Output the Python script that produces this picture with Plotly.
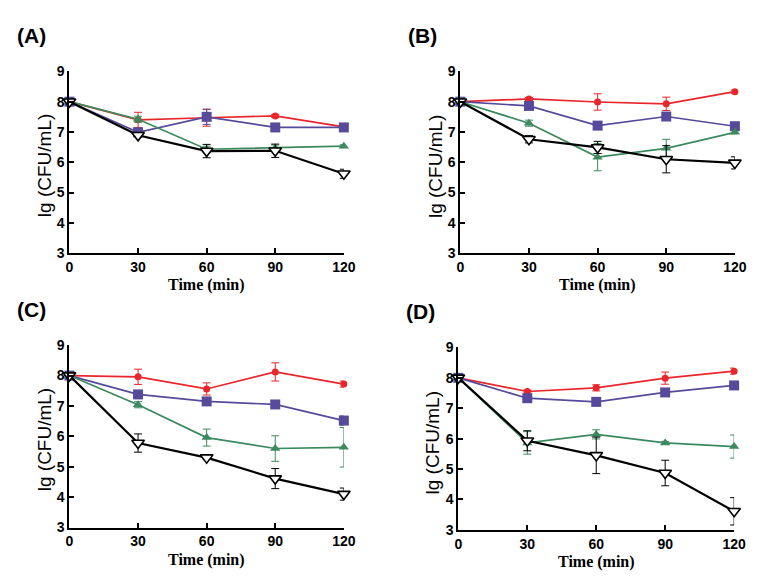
import plotly.graph_objects as go

time_min = [0, 30, 60, 90, 120]
panel_labels = ["(A)", "(B)", "(C)", "(D)"]
series_names = ["Control", "Treatment 1", "Treatment 2", "Treatment 3"]

# Panel A
a_red = [8.0, 7.40, 7.47, 7.53, 7.17]
a_red_err = [0.0, 0.25, 0.28, 0.05, 0.05]
a_purple = [8.0, 6.99, 7.50, 7.15, 7.15]
a_purple_err = [0.0, 0.1, 0.25, 0.05, 0.05]
a_green = [8.0, 7.42, 6.43, 6.47, 6.53]
a_green_err = [0.0, 0.1, 0.1, 0.1, 0.05]
a_black = [8.0, 6.89, 6.37, 6.38, 5.62]
a_black_err = [0.0, 0.05, 0.22, 0.22, 0.15]

# Panel B
b_red = [8.0, 8.09, 7.99, 7.93, 8.33]
b_red_err = [0.0, 0.05, 0.27, 0.22, 0.05]
b_purple = [8.0, 7.86, 7.21, 7.51, 7.19]
b_purple_err = [0.0, 0.1, 0.05, 0.05, 0.05]
b_green = [8.0, 7.29, 6.17, 6.46, 6.99]
b_green_err = [0.0, 0.1, 0.45, 0.3, 0.05]
b_black = [8.0, 6.76, 6.49, 6.10, 5.98]
b_black_err = [0.0, 0.12, 0.2, 0.45, 0.2]

# Panel C
c_red = [8.0, 7.96, 7.56, 8.12, 7.72]
c_red_err = [0.0, 0.25, 0.2, 0.3, 0.1]
c_purple = [8.0, 7.38, 7.15, 7.05, 6.52]
c_purple_err = [0.0, 0.08, 0.08, 0.1, 0.15]
c_green = [8.0, 7.04, 5.96, 5.60, 5.64]
c_green_err = [0.0, 0.1, 0.28, 0.42, 0.65]
c_black = [8.0, 5.78, 5.30, 4.61, 4.10]
c_black_err = [0.0, 0.3, 0.05, 0.33, 0.2]

# Panel D
d_red = [8.0, 7.55, 7.67, 7.99, 8.22]
d_red_err = [0.0, 0.05, 0.1, 0.2, 0.1]
d_purple = [8.0, 7.33, 7.21, 7.52, 7.75]
d_purple_err = [0.0, 0.1, 0.05, 0.05, 0.05]
d_green = [8.0, 5.86, 6.14, 5.86, 5.74]
d_green_err = [0.0, 0.37, 0.15, 0.05, 0.38]
d_black = [8.0, 5.93, 5.45, 4.87, 3.61]
d_black_err = [0.0, 0.33, 0.6, 0.42, 0.45]

panels = [
    [(a_red, a_red_err), (a_purple, a_purple_err), (a_green, a_green_err), (a_black, a_black_err)],
    [(b_red, b_red_err), (b_purple, b_purple_err), (b_green, b_green_err), (b_black, b_black_err)],
    [(c_red, c_red_err), (c_purple, c_purple_err), (c_green, c_green_err), (c_black, c_black_err)],
    [(d_red, d_red_err), (d_purple, d_purple_err), (d_green, d_green_err), (d_black, d_black_err)],
]

OFF = 8  # page body margin
W, H = 773 - 2 * OFF, 586 - 2 * OFF
# plot areas in page pixels: (x0, x1, ytop, ybottom)
areas = [
    (66.7, 347.0, 65.0, 252.0),
    (466.0, 746.5, 65.0, 252.0),
    (66.7, 347.0, 346.7, 534.3),
    (464.0, 745.7, 349.0, 536.7),
]


def px(x):
    return (x - OFF) / W


def py(y):
    return 1 - (y - OFF) / H


styles = [
    dict(color="#e8262c", symbol="circle", size=7, lw=1.7, fill="#e8262c"),
    dict(color="#574a9a", symbol="square", size=10, lw=1.7, fill="#574a9a"),
    dict(color="#3b8a5e", symbol="triangle-up", size=9, lw=1.7, fill="#3b8a5e"),
    dict(color="#000000", symbol="triangle-down", size=11, lw=2.2, fill="#ffffff"),
]

fig = go.Figure()
annotations = []
layout_axes = {}
for i, (panel, area) in enumerate(zip(panels, areas)):
    x0, x1, yt, yb = area
    xa = "xaxis" if i == 0 else f"xaxis{i+1}"
    ya = "yaxis" if i == 0 else f"yaxis{i+1}"
    xref = "x" if i == 0 else f"x{i+1}"
    yref = "y" if i == 0 else f"y{i+1}"
    for j, ((vals, errs), st) in enumerate(zip(panel, styles)):
        fig.add_trace(go.Scatter(
            x=time_min, y=vals, xaxis=xref, yaxis=yref,
            mode="lines+markers", name=series_names[j], showlegend=False,
            cliponaxis=False,
            line=dict(color=st["color"], width=st["lw"]),
            marker=dict(symbol=st["symbol"], size=st["size"], color=st["fill"],
                        line=dict(color=st["color"], width=1.6 if j == 3 else 0)),
            error_y=dict(type="data", array=errs, visible=True,
                         color=st["color"], thickness=1, width=4),
        ))
    axis_common = dict(showline=True, linecolor="black", linewidth=2,
                       ticks="inside", ticklen=5, tickwidth=1.5, tickcolor="black",
                       showgrid=False, zeroline=False,
                       tickfont=dict(family="Liberation Sans", size=14, color="black", weight="bold"))
    layout_axes[xa] = dict(axis_common, domain=[px(x0), px(x1)], range=[0, 120],
                           tickvals=time_min, anchor=yref)
    layout_axes[ya] = dict(axis_common, domain=[py(yb), py(yt)], range=[3, 9],
                           dtick=1, anchor=xref)
    # panel label
    annotations.append(dict(text=panel_labels[i], x=px(x0 - 56), y=py(yt - 37),
                            xref="paper", yref="paper", xanchor="left", yanchor="middle",
                            showarrow=False,
                            font=dict(family="Liberation Sans", size=21, color="black", weight="bold")))
    # x title
    annotations.append(dict(text="Time (min)", x=px((x0 + x1) / 2), y=py(yb + 33),
                            xref="paper", yref="paper", xanchor="center", yanchor="middle",
                            showarrow=False,
                            font=dict(family="Liberation Serif", size=16, color="black", weight="bold")))
    # y title
    annotations.append(dict(text="lg (CFU/mL)", x=px(x0 - 26), y=py((yt + yb) / 2 + 4),
                            xref="paper", yref="paper", xanchor="center", yanchor="middle",
                            textangle=-90, showarrow=False,
                            font=dict(family="Liberation Sans", size=19, color="black")))

fig.update_layout(width=W, height=H, margin=dict(l=0, r=0, t=0, b=0),
                  paper_bgcolor="white", plot_bgcolor="white",
                  annotations=annotations, **layout_axes)
fig.write_html("out.html")
